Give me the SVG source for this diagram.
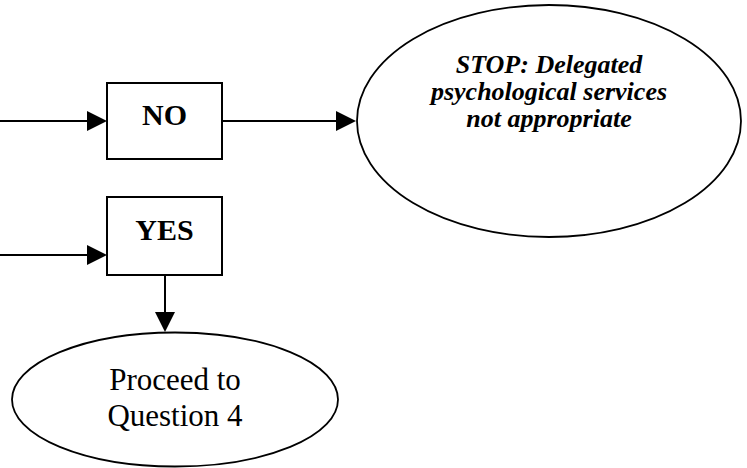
<svg xmlns="http://www.w3.org/2000/svg" width="747" height="468" viewBox="0 0 747 468">
<defs>
<style>
.box{fill:#fff;stroke:#000;stroke-width:2}
.ell{fill:#fff;stroke:#000;stroke-width:1.8}
.ln{stroke:#000;stroke-width:2;fill:none}
.hd{fill:#000;stroke:none}
.b{font-family:"Liberation Serif","Times New Roman",serif;font-weight:bold;font-size:30px;text-anchor:middle;fill:#000}
.bi{font-family:"Liberation Serif","Times New Roman",serif;font-weight:bold;font-style:italic;font-size:26px;text-anchor:middle;fill:#000}
.r{font-family:"Liberation Serif","Times New Roman",serif;font-size:31px;text-anchor:middle;fill:#000}
</style>
</defs>
<g id="connectors">
<line class="ln" x1="0" y1="121" x2="88" y2="121"/>
<polygon class="hd" points="87,111 107,121 87,131"/>
<line class="ln" x1="222" y1="121" x2="338" y2="121"/>
<polygon class="hd" points="336,111 356,121 336,131"/>
<line class="ln" x1="0" y1="255" x2="88" y2="255"/>
<polygon class="hd" points="87,245 107,255 87,265"/>
<line class="ln" x1="165" y1="275" x2="165" y2="314"/>
<polygon class="hd" points="155,312 165,332 175,312"/>
</g>
<g id="no">
<rect class="box" x="107" y="83" width="115" height="76"/>
<text class="b" x="164.5" y="125">NO</text>
</g>
<g id="stop">
<ellipse class="ell" cx="549" cy="121" rx="192" ry="116"/>
<text class="bi" x="549" y="73">STOP: Delegated</text>
<text class="bi" x="549" y="100">psychological services</text>
<text class="bi" x="549" y="127">not appropriate</text>
</g>
<g id="yes">
<rect class="box" x="107" y="197" width="115" height="78"/>
<text class="b" x="164.5" y="240">YES</text>
</g>
<g id="proceed">
<ellipse class="ell" cx="175" cy="399.5" rx="163" ry="67"/>
<text class="r" x="175" y="390">Proceed to</text>
<text class="r" x="175" y="426">Question 4</text>
</g>
</svg>
